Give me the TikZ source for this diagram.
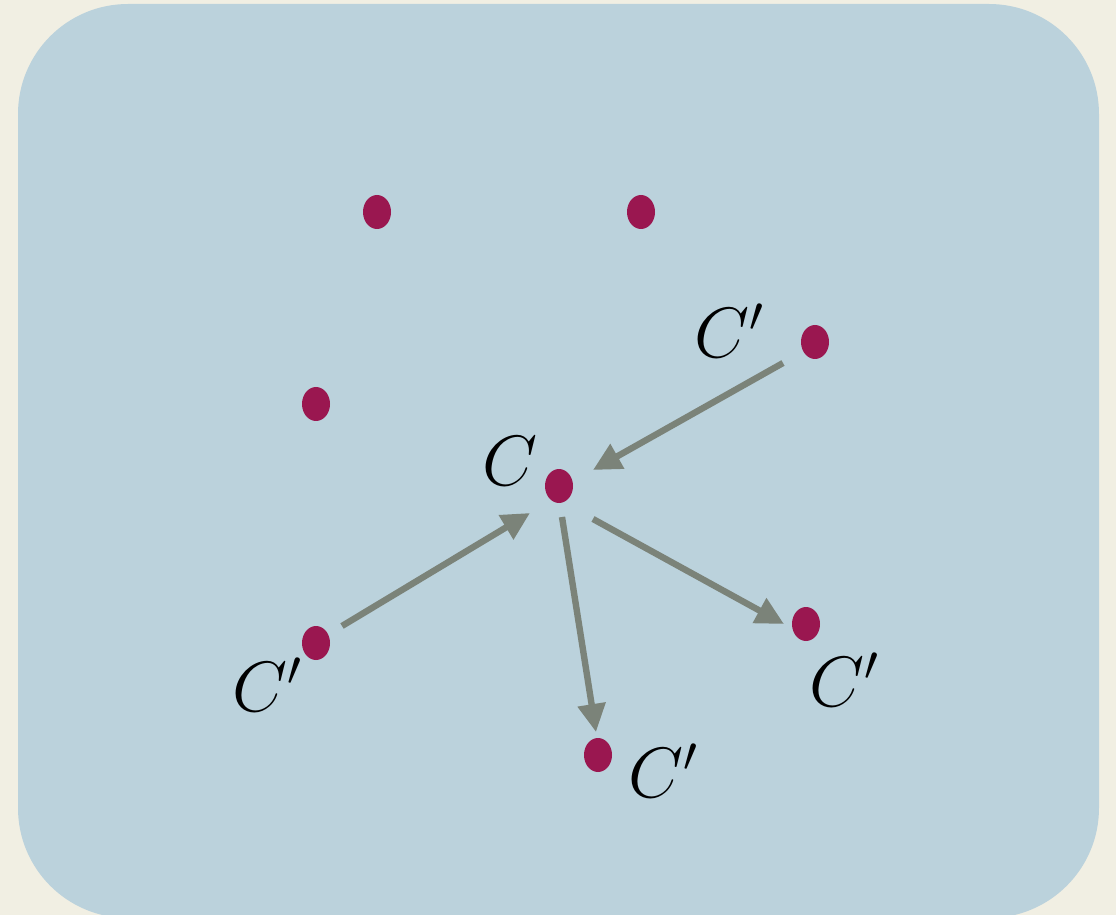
\documentclass[tikz,border=0pt]{standalone}
\usetikzlibrary{arrows.meta,calc,shapes.geometric}
\definecolor{cream}{HTML}{F1EFE3}
\definecolor{panel}{HTML}{BBD2DC}
\definecolor{dotc}{HTML}{9A1750}
\definecolor{arrc}{HTML}{7B8379}
\begin{document}
\begin{tikzpicture}[x=0.5pt,y=-0.5pt,
  pt/.style={ellipse,fill=dotc,draw=none,inner sep=0pt,minimum width=14pt,minimum height=17pt},
  lbl/.style={inner sep=0pt,font=\huge,scale=1.72},
  arr/.style={draw=arrc,line width=3.2pt,-{Triangle[length=14pt,width=13.5pt]}}]
\useasboundingbox (0,0) rectangle (1116,915);
\fill[cream] (0,0) rectangle (1116,915);
\fill[panel,rounded corners=55pt] (18,4) rectangle (1099,918);
% dots
\node[pt] (p1) at (377,212) {};
\node[pt] (p2) at (641,212) {};
\node[pt] (p3) at (316,404) {};
\node[pt] (a) at (815,342) {};
\node[pt] (c) at (559,486) {};
\node[pt] (b) at (316,643) {};
\node[pt] (d) at (806,624) {};
\node[pt] (e) at (598,755) {};
% labels
\node[lbl] (la) at (730,331) {$C'$};
\node[lbl] (lc) at (510,461) {$C$};
\node[lbl] (lb) at (268,685) {$C'$};
\node[lbl] (ld) at (845,680) {$C'$};
\node[lbl] (le) at (664,771) {$C'$};
% arrows
\draw[arr] ($(a)+(-32,21)$) -- ($(c)+(34,-16)$);
\draw[arr] ($(b)+(26,-17)$) -- ($(c)+(-29,27)$);
\draw[arr] ($(c)+(3,31)$) -- ($(e)+(-2,-23)$);
\draw[arr] ($(c)+(34,33)$) -- ($(d)+(-22,0)$);
\end{tikzpicture}
\end{document}
